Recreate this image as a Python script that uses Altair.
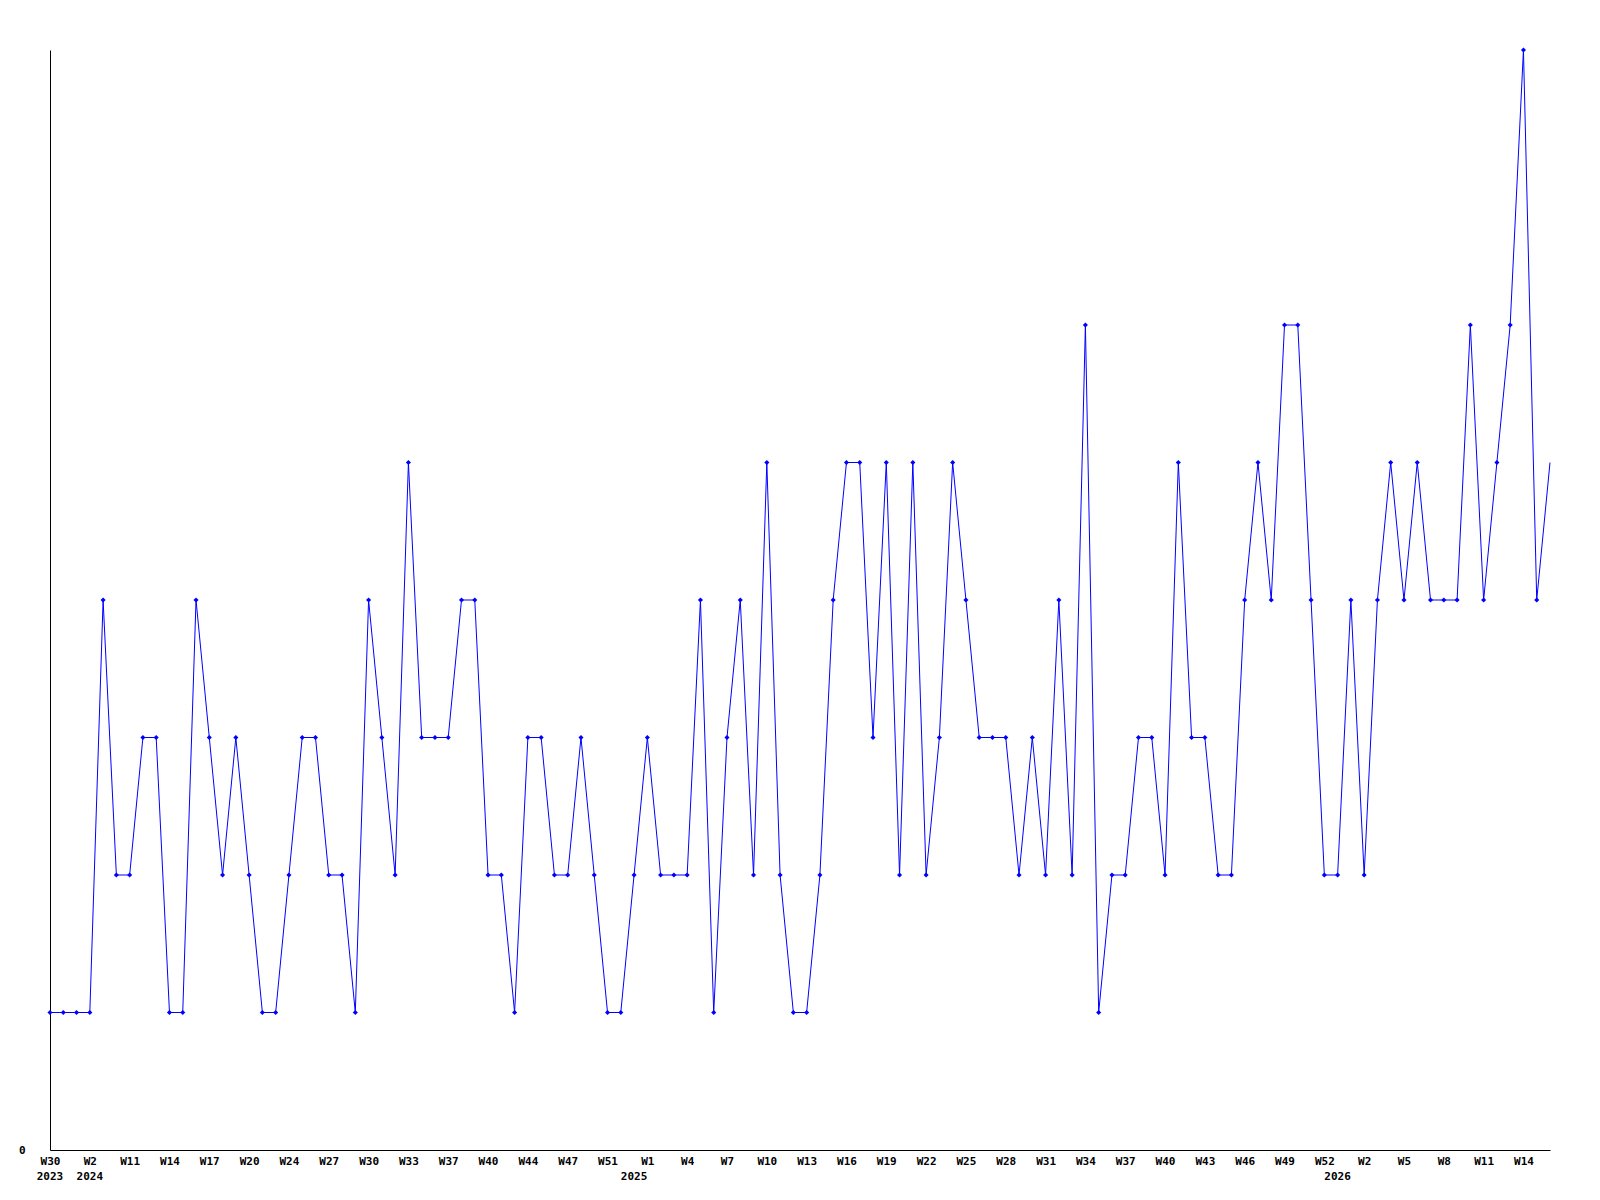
import json
import altair as alt
import pandas as pd

# weekly counts, one per plotted week (index 0 .. 113)
values = [
    1, 1, 1, 1, 4, 2, 2, 3, 3, 1,
    1, 4, 3, 2, 3, 2, 1, 1, 2, 3,
    3, 2, 2, 1, 4, 3, 2, 5, 3, 3,
    3, 4, 4, 2, 2, 1, 3, 3, 2, 2,
    3, 2, 1, 1, 2, 3, 2, 2, 2, 4,
    1, 3, 4, 2, 5, 2, 1, 1, 2, 4,
    5, 5, 3, 5, 2, 5, 2, 3, 5, 4,
    3, 3, 3, 2, 3, 2, 4, 2, 6, 1,
    2, 2, 3, 3, 2, 5, 3, 3, 2, 2,
    4, 5, 4, 6, 6, 4, 2, 2, 4, 2,
    4, 5, 4, 5, 4, 4, 4, 6, 4, 5,
    6, 8, 4, 5,
]

# week labels shown on the axis (every third plotted week)
tick_labels = [
    "W30", "W2", "W11", "W14", "W17", "W20", "W24", "W27", "W30", "W33",
    "W37", "W40", "W44", "W47", "W51", "W1", "W4", "W7", "W10", "W13",
    "W16", "W19", "W22", "W25", "W28", "W31", "W34", "W37", "W40", "W43",
    "W46", "W49", "W52", "W2", "W5", "W8", "W11", "W14",
]
tick_index = list(range(0, 3 * len(tick_labels), 3))

# year labels, at the index of the first plotted week of each year
year_labels = ["2023", "2024", "2025", "2026"]
year_start_index = [0, 3, 44, 97]

n = len(values)
df = pd.DataFrame({"i": list(range(n)), "v": values})
df["last"] = df["i"] == n - 1
years = pd.DataFrame({"i": year_start_index, "year": year_labels})

W, H = 1500, 1100
FONT = "DejaVu Sans Mono"
BLUE = "#0000ff"

label_expr = f"{json.dumps(tick_labels)}[indexof({json.dumps(tick_index)}, datum.value)]"

xscale = alt.Scale(domain=[0, n - 1], nice=False, zero=False)
yscale = alt.Scale(domain=[0, 8], nice=False)

x_axis = alt.Axis(
    values=tick_index, labelExpr=label_expr, title=None, ticks=False, tickSize=0,
    grid=False, labelPadding=5, labelFont=FONT, labelFontWeight="bold",
    labelFontSize=11, labelColor="black", domainColor="black", domainWidth=1,
    labelFlush=False, labelOverlap=False, labelAlign="center",
)
y_axis = alt.Axis(
    values=[0], format="d", title=None, ticks=False, tickSize=0, grid=False,
    labelPadding=25, labelFont=FONT, labelFontWeight="bold", labelFontSize=11,
    labelColor="black", domainColor="black", domainWidth=1,
)

base = alt.Chart(df)

line = base.mark_line(color=BLUE, strokeWidth=1).encode(
    x=alt.X("i:Q", scale=xscale, axis=x_axis),
    y=alt.Y("v:Q", scale=yscale, axis=y_axis),
)

points = base.transform_filter("!datum.last").mark_point(
    shape="diamond", filled=True, size=26, color=BLUE, opacity=1
).encode(
    x=alt.X("i:Q", scale=xscale),
    y=alt.Y("v:Q", scale=yscale),
)

year_text = alt.Chart(years).mark_text(
    font=FONT, fontWeight="bold", fontSize=11, color="black",
    align="center", baseline="top",
).encode(
    x=alt.X("i:Q", scale=xscale),
    y=alt.value(H + 21),
    text="year:N",
)

chart = (
    alt.layer(line, points, year_text)
    .properties(
        width=W, height=H,
        autosize=alt.AutoSizeParams(type="none"),
        padding={"left": 42, "top": 42, "right": 42, "bottom": 42},
        background="white",
    )
    .configure_view(stroke=None)
)

chart.save("out.html", embed_options={"renderer": "svg", "actions": False})
